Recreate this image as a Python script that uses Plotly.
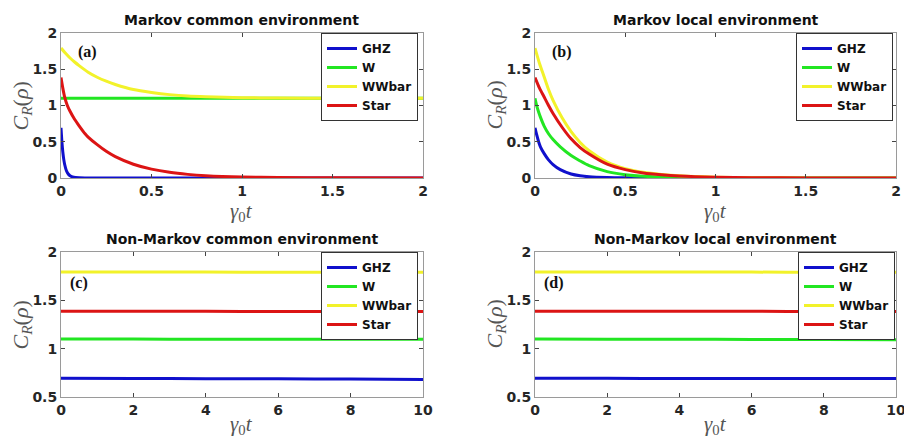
import plotly.graph_objects as go

# ---------------- data ----------------
series_names = ["GHZ", "W", "WWbar", "Star"]
series_colors = ["#1010cc", "#22e622", "#f2f22a", "#dc1414"]

# (a) Markov common environment
a_ghz_t = [0, 0.005, 0.01, 0.015, 0.02, 0.03, 0.04, 0.05, 0.07, 0.1, 0.15, 0.2, 2.0]
a_ghz_v = [0.693, 0.50, 0.36, 0.26, 0.19, 0.10, 0.055, 0.03, 0.01, 0.003, 0.0, 0.0, 0.0]
a_w_t = [0, 0.5, 1.0, 1.5, 2.0]
a_w_v = [1.099, 1.099, 1.099, 1.099, 1.099]
a_wwbar_t = [0, 0.025, 0.05, 0.075, 0.1, 0.15, 0.2, 0.25, 0.3, 0.4, 0.5, 0.6, 0.7, 0.8, 1.0, 1.2, 1.5, 2.0]
a_wwbar_v = [1.792, 1.72, 1.655, 1.60, 1.55, 1.46, 1.39, 1.335, 1.29, 1.22, 1.18, 1.15, 1.13, 1.12, 1.108, 1.103, 1.10, 1.099]
a_star_t = [0, 0.01, 0.02, 0.035, 0.05, 0.075, 0.1, 0.133, 0.15, 0.2, 0.25, 0.3, 0.4, 0.5, 0.6, 0.7, 0.8, 1.0, 1.2, 1.5, 2.0]
a_star_v = [1.386, 1.24, 1.12, 1.0, 0.92, 0.81, 0.72, 0.61, 0.565, 0.46, 0.368, 0.295, 0.19, 0.122, 0.078, 0.05, 0.032, 0.013, 0.006, 0.002, 0.0]

# (b) Markov local environment
b_ghz_t = [0, 0.01, 0.02, 0.03, 0.05, 0.075, 0.1, 0.14, 0.2, 0.25, 0.3, 0.4, 0.5, 0.7, 1.0, 2.0]
b_ghz_v = [0.693, 0.59, 0.50, 0.43, 0.34, 0.25, 0.185, 0.115, 0.055, 0.03, 0.017, 0.006, 0.002, 0.0, 0.0, 0.0]
b_w_t = [0, 0.01, 0.02, 0.03, 0.05, 0.075, 0.1, 0.14, 0.2, 0.25, 0.3, 0.4, 0.5, 0.6, 0.8, 1.0, 1.5, 2.0]
b_w_v = [1.099, 0.99, 0.91, 0.84, 0.72, 0.61, 0.53, 0.43, 0.31, 0.235, 0.17, 0.088, 0.046, 0.024, 0.007, 0.002, 0.0, 0.0]
b_wwbar_t = [0, 0.025, 0.05, 0.075, 0.1, 0.15, 0.2, 0.25, 0.3, 0.4, 0.5, 0.6, 0.7, 0.8, 1.0, 1.2, 1.5, 2.0]
b_wwbar_v = [1.792, 1.58, 1.40, 1.22, 1.07, 0.83, 0.64, 0.49, 0.375, 0.22, 0.13, 0.08, 0.05, 0.03, 0.011, 0.004, 0.001, 0.0]
b_star_t = [0, 0.025, 0.05, 0.075, 0.1, 0.15, 0.2, 0.25, 0.3, 0.4, 0.5, 0.6, 0.7, 0.8, 1.0, 1.2, 1.5, 2.0]
b_star_v = [1.386, 1.24, 1.12, 1.0, 0.89, 0.70, 0.54, 0.42, 0.33, 0.19, 0.115, 0.07, 0.045, 0.028, 0.011, 0.004, 0.001, 0.0]

# (c) Non-Markov common environment, (d) Non-Markov local environment
nm_t = [0, 2, 4, 6, 8, 10]
c_ghz_v = [0.693, 0.692, 0.690, 0.688, 0.685, 0.682]
c_w_v = [1.099, 1.099, 1.098, 1.098, 1.097, 1.097]
c_wwbar_v = [1.792, 1.792, 1.792, 1.791, 1.791, 1.791]
c_star_v = [1.386, 1.386, 1.386, 1.385, 1.385, 1.385]
d_ghz_v = [0.693, 0.693, 0.692, 0.692, 0.692, 0.691]
d_w_v = [1.099, 1.098, 1.097, 1.096, 1.094, 1.092]
d_wwbar_v = [1.792, 1.792, 1.792, 1.792, 1.791, 1.791]
d_star_v = [1.386, 1.386, 1.386, 1.386, 1.385, 1.385]

panel_titles = ["Markov common environment", "Markov local environment",
                "Non-Markov common environment", "Non-Markov local environment"]
panel_tags = ["(a)", "(b)", "(c)", "(d)"]
markov_ticks = [0, 0.5, 1, 1.5, 2]
markov_ticktext = ["0", "0.5", "1", "1.5", "2"]
nm_xticks = [0, 2, 4, 6, 8, 10]
nm_yticks = [0.5, 1, 1.5, 2]
nm_yticktext = ["0.5", "1", "1.5", "2"]

panels = [
    [(a_ghz_t, a_ghz_v), (a_w_t, a_w_v), (a_wwbar_t, a_wwbar_v), (a_star_t, a_star_v)],
    [(b_ghz_t, b_ghz_v), (b_w_t, b_w_v), (b_wwbar_t, b_wwbar_v), (b_star_t, b_star_v)],
    [(nm_t, c_ghz_v), (nm_t, c_w_v), (nm_t, c_wwbar_v), (nm_t, c_star_v)],
    [(nm_t, d_ghz_v), (nm_t, d_w_v), (nm_t, d_wwbar_v), (nm_t, d_star_v)],
]

# ---------------- layout geometry ----------------
W, H = 904, 441
xdoms = [[61 / W, 423 / W], [535 / W, 896 / W], [61 / W, 423 / W], [535 / W, 896 / W]]
ydoms = [[1 - 178 / H, 1 - 33 / H], [1 - 178 / H, 1 - 33 / H],
         [1 - 397 / H, 1 - 252 / H], [1 - 397 / H, 1 - 252 / H]]

fig = go.Figure()
legend_names = ["legend", "legend2", "legend3", "legend4"]
for p, data in enumerate(panels):
    xa = "x" if p == 0 else f"x{p+1}"
    ya = "y" if p == 0 else f"y{p+1}"
    for s, (tt, vv) in enumerate(data):
        fig.add_trace(go.Scatter(
            x=tt, y=vv, mode="lines", name=series_names[s],
            line=dict(color=series_colors[s], width=3, shape="spline", smoothing=0.7),
            xaxis=xa, yaxis=ya, legend=legend_names[p], showlegend=True,
        ))

SANS = "DejaVu Sans, Liberation Sans, Arial, sans-serif"
SERIF = "Liberation Serif, DejaVu Serif, Times New Roman, serif"
tickfont = dict(family=SANS, size=14, color="#262626", weight="bold")
axis_common = dict(showline=True, linecolor="#9a9a9a", linewidth=1, mirror="ticks",
                   ticks="inside", ticklen=4, tickcolor="#444444", tickwidth=1,
                   showgrid=False, zeroline=False, tickfont=tickfont,
                   automargin=False, ticklabeloverflow="allow")

layout = dict(width=W, height=H, margin=dict(l=0, r=0, t=0, b=0, autoexpand=False),
              paper_bgcolor="white", plot_bgcolor="white", template="none")
for p in range(4):
    xk = "xaxis" if p == 0 else f"xaxis{p+1}"
    yk = "yaxis" if p == 0 else f"yaxis{p+1}"
    ya = "y" if p == 0 else f"y{p+1}"
    xa = "x" if p == 0 else f"x{p+1}"
    if p < 2:
        layout[xk] = dict(axis_common, domain=xdoms[p], range=[0, 2], anchor=ya,
                          tickvals=markov_ticks, ticktext=markov_ticktext)
        layout[yk] = dict(axis_common, domain=ydoms[p], range=[0, 2], anchor=xa,
                          tickvals=markov_ticks, ticktext=markov_ticktext)
    else:
        layout[xk] = dict(axis_common, domain=xdoms[p], range=[0, 10], anchor=ya,
                          tickvals=nm_xticks)
        layout[yk] = dict(axis_common, domain=ydoms[p], range=[0.5, 2], anchor=xa,
                          tickvals=nm_yticks, ticktext=nm_yticktext)

leg_right = [418 / W, 893 / W, 418 / W, 895 / W]
leg_top = [1 - 33 / H, 1 - 33 / H, 1 - 252 / H, 1 - 252 / H]
for p in range(4):
    layout[legend_names[p]] = dict(
        x=leg_right[p], y=leg_top[p], xanchor="right", yanchor="top",
        bgcolor="white", bordercolor="#333333", borderwidth=1,
        font=dict(family=SANS, size=12, color="#111111", weight="bold"),
        tracegroupgap=0, itemwidth=30,
    )

annotations = []
for p in range(4):
    xc = (xdoms[p][0] + xdoms[p][1]) / 2
    # titles
    annotations.append(dict(text=panel_titles[p], x=xc, y=ydoms[p][1] + 3 / H, xref="paper", yref="paper",
                            xanchor="center", yanchor="bottom", showarrow=False,
                            font=dict(family=SANS, size=14, color="#111111", weight="bold")))
    # x label
    xoff = 34 if p < 2 else 28
    annotations.append(dict(text="<i>γ</i><sub>0</sub><i>t</i>", x=xc, y=ydoms[p][0] - xoff / H,
                            xref="paper", yref="paper", xanchor="center", yanchor="middle", showarrow=False,
                            font=dict(family=SERIF, size=21, color="#555555")))
    # y label
    annotations.append(dict(text="<i>C</i><sub><i>R</i></sub>(<i>ρ</i>)", x=xdoms[p][0] - 40 / W,
                            y=(ydoms[p][0] + ydoms[p][1]) / 2, xref="paper", yref="paper",
                            xanchor="center", yanchor="middle", textangle=-90, showarrow=False,
                            font=dict(family=SERIF, size=22, color="#555555")))
    # panel tag
    off = 15 if p < 2 else 7
    ytag = 52 if p < 2 else 283
    annotations.append(dict(text=panel_tags[p], x=xdoms[p][0] + off / W, y=1 - ytag / H,
                            xref="paper", yref="paper", xanchor="left", yanchor="middle", showarrow=False,
                            font=dict(family=SERIF, size=16, color="#111111", weight="bold")))
layout["annotations"] = annotations

fig.update_layout(**layout)
fig.write_html("out.html", config={"displayModeBar": False},
               post_script="document.body.style.margin='0';document.body.style.overflow='hidden';")
